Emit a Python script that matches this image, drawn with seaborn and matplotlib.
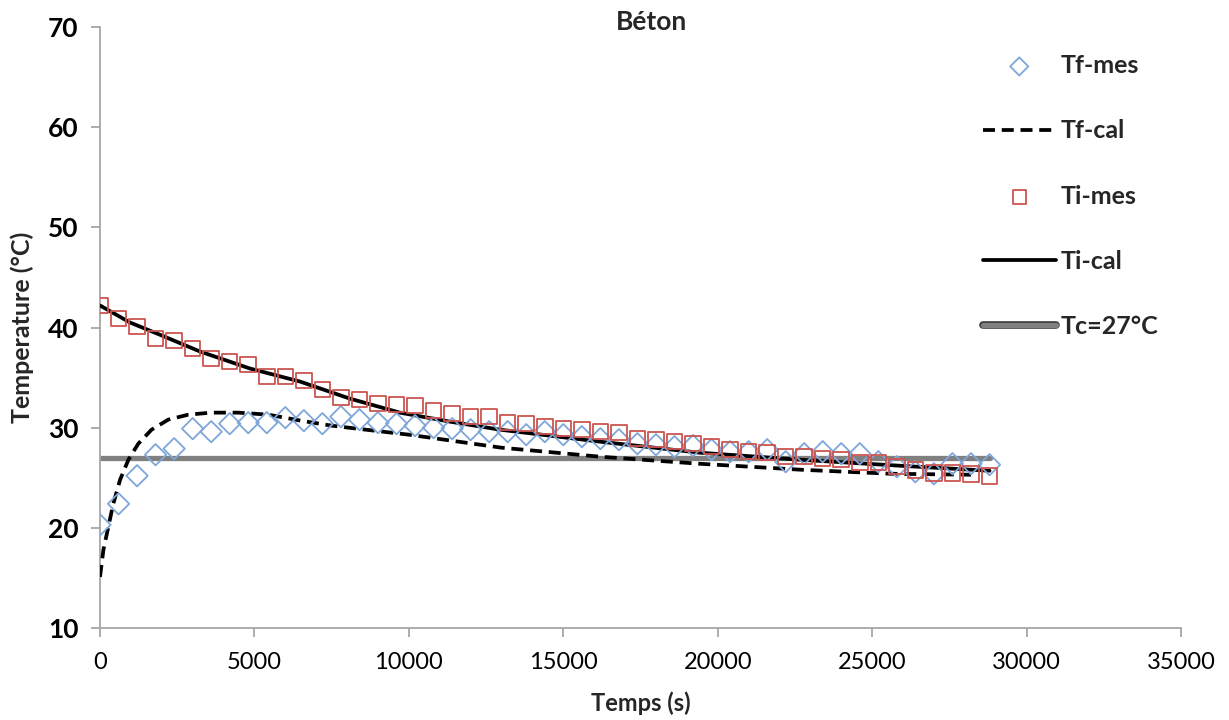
import matplotlib
matplotlib.use('Agg')
import pandas as pd
import matplotlib.pyplot as plt
import seaborn as sns
from matplotlib import patheffects as pe

# measured points (every 600 s)
temps_mes = [0, 600, 1200, 1800, 2400, 3000, 3600, 4200, 4800, 5400,
             6000, 6600, 7200, 7800, 8400, 9000, 9600, 10200, 10800, 11400,
             12000, 12600, 13200, 13800, 14400, 15000, 15600, 16200, 16800, 17400,
             18000, 18600, 19200, 19800, 20400, 21000, 21600, 22200, 22800, 23400,
             24000, 24600, 25200, 25800, 26400, 27000, 27600, 28200, 28800]
tf_mes = [20.3, 22.4, 25.2, 27.3, 27.9, 29.9, 29.6, 30.4, 30.5, 30.5,
          31.0, 30.7, 30.4, 31.1, 30.8, 30.5, 30.4, 30.2, 30.0, 29.9,
          29.8, 29.6, 29.6, 29.3, 29.6, 29.3, 29.1, 28.9, 28.8, 28.4,
          28.3, 28.1, 28.2, 27.8, 27.6, 27.6, 27.8, 26.6, 27.4, 27.6,
          27.4, 27.4, 26.6, 26.1, 25.6, 25.4, 26.4, 26.4, 26.3]
ti_mes = [42.2, 40.9, 40.1, 38.9, 38.7, 37.9, 36.9, 36.6, 36.3, 35.1,
          35.1, 34.7, 33.8, 33.0, 32.8, 32.4, 32.3, 32.2, 31.7, 31.4,
          31.1, 31.1, 30.5, 30.4, 30.1, 29.9, 29.8, 29.6, 29.5, 28.9,
          28.8, 28.6, 28.4, 28.1, 27.8, 27.6, 27.5, 27.1, 27.1, 26.9,
          26.8, 26.5, 26.5, 26.1, 25.8, 25.5, 25.5, 25.4, 25.2]

# computed curves
tf_cal_t = [0, 110, 270, 430, 650, 920, 1240, 1670, 2210, 2860, 3600, 4480,
            5450, 6500, 7500, 8600, 10000, 13000, 16200, 19400, 22700, 25600, 28200]
tf_cal = [15.1, 17.8, 20.1, 22.4, 24.8, 26.8, 28.4, 29.8, 30.8, 31.3, 31.5, 31.5,
          31.3, 30.7, 30.2, 29.8, 29.3, 28.0, 27.1, 26.4, 25.8, 25.4, 25.3]
ti_cal_t = [0, 970, 2000, 3240, 4860, 6480, 8090, 9710, 11330, 12950,
            16190, 19420, 22660, 25900, 28800]
ti_cal = [42.2, 40.5, 39.2, 37.6, 35.9, 34.6, 32.9, 31.5, 30.6, 29.8,
          28.6, 27.5, 26.8, 26.2, 25.7]
tc_t = [0, 28800]
tc = [27, 27]

legend_order = ['Tf-mes', 'Tf-cal', 'Ti-mes', 'Ti-cal', 'Tc=27°C']

sns.set_style('ticks')
plt.rcParams['font.family'] = ['Lato', 'DejaVu Sans']

W, H = 1229, 720
fig = plt.figure(figsize=(W / 100, H / 100), dpi=100)
ax = fig.add_axes([100 / W, 1 - 628 / H, 1081 / W, 601 / H])

mes = pd.DataFrame({'t': temps_mes, 'Tf': tf_mes, 'Ti': ti_mes})
tfc = pd.DataFrame({'t': tf_cal_t, 'T': tf_cal})
tic = pd.DataFrame({'t': ti_cal_t, 'T': ti_cal})
tcd = pd.DataFrame({'t': tc_t, 'T': tc})

sns.lineplot(data=tcd, x='t', y='T', ax=ax, color='#808080', linewidth=3.8,
             label='Tc=27°C', estimator=None, zorder=2)
sns.lineplot(data=tfc, x='t', y='T', ax=ax, color='black', linewidth=2.7,
             label='Tf-cal', estimator=None, zorder=3)
sns.lineplot(data=tic, x='t', y='T', ax=ax, color='black', linewidth=2.7,
             label='Ti-cal', estimator=None, zorder=3)
sns.scatterplot(data=mes, x='t', y='Tf', ax=ax, marker='D', s=118,
                facecolors='none', edgecolor='#7fa6d9', linewidth=1.3,
                label='Tf-mes', zorder=4)
sns.scatterplot(data=mes, x='t', y='Ti', ax=ax, marker='s', s=125,
                facecolors='none', edgecolor='#cc5450', linewidth=1.3,
                label='Ti-mes', zorder=5)

# dashed style for Tf-cal
for ln in ax.get_lines():
    if ln.get_label() == 'Tf-cal':
        ln.set_linestyle((0, (3.2, 1.8)))

ax.set_xlim(0, 35000)
ax.set_ylim(10, 70)
ax.set_xticks([0, 5000, 10000, 15000, 20000, 25000, 30000, 35000])
ax.set_yticks([10, 20, 30, 40, 50, 60, 70])
sns.despine(ax=ax)
for side in ['left', 'bottom']:
    ax.spines[side].set_color('#a6a6a6')
    ax.spines[side].set_linewidth(1.3)
ax.tick_params(axis='both', colors='#a6a6a6', length=6.5, width=1.3, direction='out')
ax.tick_params(axis='y', labelcolor='black', labelsize=19, pad=9)
ax.tick_params(axis='x', labelcolor='black', labelsize=17, pad=11)
for lab in ax.get_yticklabels():
    lab.set_fontweight('bold')

ax.set_xlabel('Temps (s)', fontsize=17, fontweight='bold')
ax.set_ylabel('Temperature (°C)', fontsize=18, fontweight='bold')
ax.xaxis.set_label_coords(0.5, -0.105)
ax.yaxis.set_label_coords(-0.061, 0.5)

fig.text(652 / W, 1 - 22 / H, 'Béton', ha='center', va='center',
         fontsize=19, fontweight='bold')

handles, labels = ax.get_legend_handles_labels()
hmap = dict(zip(labels, handles))
leg = ax.legend([hmap[k] for k in legend_order], legend_order,
                loc='upper left', bbox_to_anchor=(983 / W, 1 - 54 / H),
                bbox_transform=fig.transFigure, frameon=False,
                borderpad=0, borderaxespad=0, handlelength=2.9,
                handletextpad=0.2, labelspacing=1.69, markerscale=0.85,
                prop={'weight': 'bold', 'size': 18})
tc_handle = leg.legend_handles[4]
tc_handle.set_path_effects([pe.Stroke(linewidth=5.5, foreground='#3a3a3a'), pe.Normal()])

fig.savefig('out.png', dpi=100)
